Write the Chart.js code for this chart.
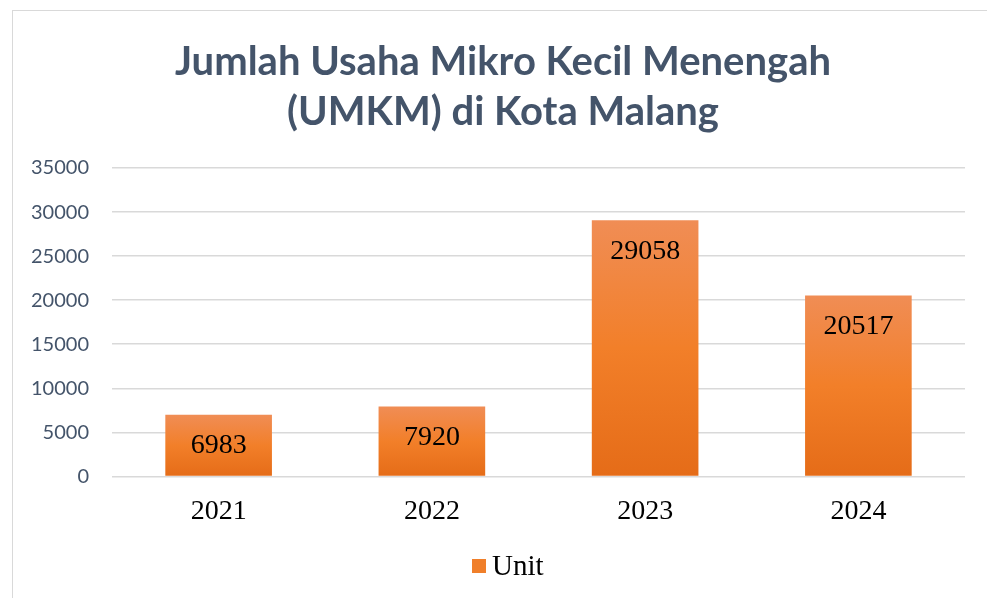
<!DOCTYPE html>
<html>
<head>
<meta charset="utf-8">
<script src="https://cdn.jsdelivr.net/npm/chart.js@4"></script>
<style>
  html, body { margin: 0; padding: 0; background: #fff; }
  #wrap { position: relative; width: 987px; height: 598px; overflow: hidden; }
  #card { position: absolute; left: 12px; top: 10px; width: 990px; height: 600px; border: 1px solid #d9d9d9; background: #fff; }
  #myChart { position: absolute; left: 0; top: 0; }
</style>
</head>
<body>
<div id="wrap">
  <div id="card"></div>
  <canvas id="myChart" width="987" height="598"></canvas>
</div>
<script>
const years = ["2021", "2022", "2023", "2024"];
const units = [6983, 7920, 29058, 20517];
const yTicks = [0, 5000, 10000, 15000, 20000, 25000, 30000, 35000];
const titleLines = ["Jumlah Usaha Mikro Kecil Menengah", "(UMKM) di Kota Malang"];
const seriesName = "Unit";

const serif = "'Liberation Serif', 'Times New Roman', serif";

// title, legend and bar value labels drawn by hand
const extras = {
  id: "extras",
  afterDraw(chart) {
    const c = chart.ctx;
    c.save();
    c.fillStyle = "#44546A";
    c.textAlign = "center";
    c.textBaseline = "alphabetic";
    c.font = "bold 40px Lato";
    c.fillText(titleLines[0], 503, 75);
    c.fillText(titleLines[1], 503, 125);

    c.fillStyle = "#F07F2A";
    c.fillRect(472, 559, 14, 14);
    c.fillStyle = "#000";
    c.textAlign = "left";
    c.textBaseline = "middle";
    c.font = "29px " + serif;
    c.fillText(seriesName, 492, 567);

    c.font = "28px " + serif;
    c.textAlign = "center";
    chart.getDatasetMeta(0).data.forEach((bar, i) => {
      c.fillText(String(units[i]), bar.x, bar.y + 31);
    });
    c.restore();
  },
};

const ctx = document.getElementById("myChart");

new Chart(ctx, {
  type: "bar",
  data: {
    labels: years,
    datasets: [
      {
        label: seriesName,
        data: units,
        borderWidth: 0,
        backgroundColor: (c) => {
          const chart = c.chart;
          const y = chart.scales.y;
          if (!y || c.raw === undefined) return "#F07F2A";
          const top = y.getPixelForValue(c.raw);
          const bottom = y.getPixelForValue(0);
          if (!isFinite(top) || !isFinite(bottom)) return "#F07F2A";
          const g = chart.ctx.createLinearGradient(0, top, 0, bottom);
          g.addColorStop(0, "#F08D55");
          g.addColorStop(0.5, "#F27F29");
          g.addColorStop(1, "#E56C18");
          return g;
        },
        barPercentage: 0.5,
        categoryPercentage: 1,
      },
    ],
  },
  options: {
    responsive: false,
    animation: false,
    layout: { padding: { left: 0, right: 22, top: 168, bottom: 52 } },
    plugins: {
      title: { display: false },
      legend: { display: false },
      tooltip: { enabled: false },
    },
    scales: {
      x: {
        grid: { display: false, drawTicks: false },
        border: { display: false },
        ticks: {
          color: "#000",
          padding: 18,
          font: { family: serif, size: 28 },
        },
      },
      y: {
        min: 0,
        max: 35000,
        afterFit: (s) => { s.width = 112; },
        afterBuildTicks: (s) => { s.ticks = yTicks.map((v) => ({ value: v })); },
        grid: { color: "#D9D9D9", lineWidth: 1.5, drawTicks: false },
        border: { display: false },
        ticks: {
          color: "#44546A",
          padding: 23,
          font: { family: "Lato", size: 20 },
          callback: (v) => String(v),
        },
      },
    },
  },
  plugins: [extras],
});
</script>
</body>
</html>
